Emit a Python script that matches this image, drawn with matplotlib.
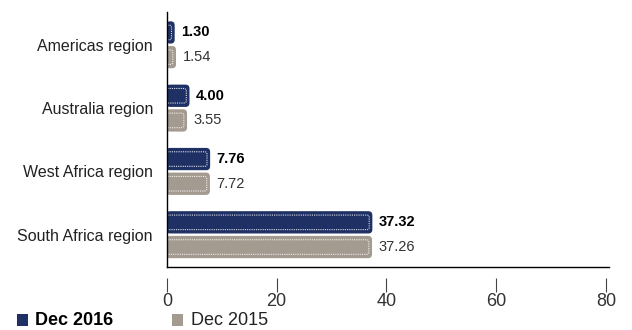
import numpy as np
import matplotlib.pyplot as plt
from matplotlib.patches import FancyBboxPatch

plt.rcParams['font.family'] = ['Liberation Sans', 'DejaVu Sans']

regions = ['Americas region', 'Australia region', 'West Africa region', 'South Africa region']
dec_2016 = [1.30, 4.00, 7.76, 37.32]
dec_2015 = [1.54, 3.55, 7.72, 37.26]
xticks = [0, 20, 40, 60, 80]

navy = '#1f3164'
taupe = '#a39a90'

fig = plt.figure(figsize=(6.32, 3.30), dpi=100)
ax = fig.add_axes([0.264, 0.191, 0.699, 0.773])

y = np.arange(len(regions))
h = 0.33
gap = 0.06


def rounded_bars(values, offset, color, bold):
    bars = ax.barh(y + offset, values, height=h, color='none', edgecolor='none')
    for bar, v in zip(bars, values):
        x0, y0 = bar.get_x(), bar.get_y()
        w, bh = bar.get_width(), bar.get_height()
        # outer rounded bar
        ax.add_patch(FancyBboxPatch((x0, y0), w, bh,
                                    boxstyle='round,pad=0,rounding_size=0.6',
                                    mutation_aspect=0.085,
                                    facecolor=color, edgecolor=color, lw=1))
        # dotted white inner border
        ix, iy = 0.45, 0.05
        ax.add_patch(FancyBboxPatch((x0 - 0.3, y0 + iy), w - ix + 0.3, bh - 2 * iy,
                                    boxstyle='round,pad=0,rounding_size=0.4',
                                    mutation_aspect=0.085,
                                    facecolor='none', edgecolor='white',
                                    lw=0.8, ls=(0, (1, 1)), alpha=0.85))
        ax.text(v + 1.3, y0 + bh / 2, f'{v:.2f}', va='center', ha='left',
                fontsize=10.5, fontweight='bold' if bold else 'normal',
                color='black' if bold else '#333333')


rounded_bars(dec_2016, -(h + gap) / 2, navy, True)
rounded_bars(dec_2015, (h + gap) / 2, taupe, False)

ax.set_xlim(0, 80.5)
ax.set_ylim(3.51, -0.52)
ax.set_yticks(y)
ax.set_yticklabels(regions)
ax.tick_params(axis='y', length=0, pad=10, labelsize=11.5, labelcolor='#222222')

ax.set_xticks(xticks)
ax.set_xticklabels([str(t) for t in xticks])
ax.tick_params(axis='x', length=10, width=0.8, direction='out', pad=1,
               labelsize=13, labelcolor='#333333', color='#444444')

for s in ['top', 'right']:
    ax.spines[s].set_visible(False)
ax.spines['left'].set_linewidth(1)
ax.spines['bottom'].set_position(('outward', 8))
ax.spines['bottom'].set_visible(False)
ax.plot([0, 1], [0, 0], transform=ax.transAxes, color='black', lw=1, clip_on=False)

# legend row
fig.patches.append(plt.Rectangle((0.027, 0.012), 0.018, 0.036, transform=fig.transFigure,
                                 facecolor=navy, edgecolor='none'))
fig.text(0.055, 0.03, 'Dec 2016', fontsize=13, fontweight='bold', va='center', ha='left')
fig.patches.append(plt.Rectangle((0.272, 0.012), 0.018, 0.036, transform=fig.transFigure,
                                 facecolor=taupe, edgecolor='none'))
fig.text(0.302, 0.03, 'Dec 2015', fontsize=13, va='center', ha='left', color='#222222')

fig.savefig('out.png', dpi=100)
